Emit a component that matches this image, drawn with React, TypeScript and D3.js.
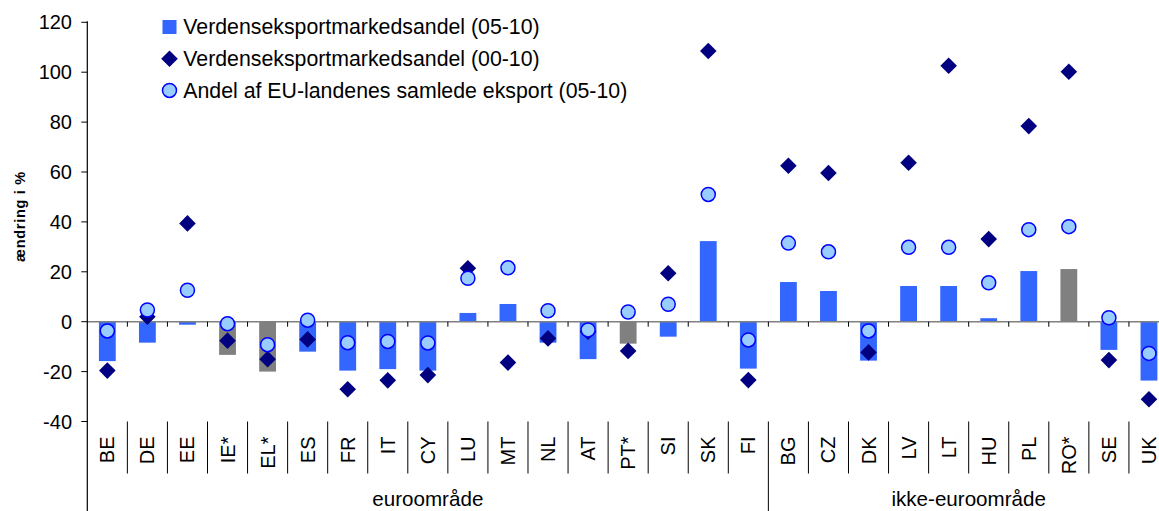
import * as d3 from "d3";

// Data
const countries = [
  "BE", "DE", "EE", "IE*", "EL*", "ES", "FR", "IT", "CY", "LU", "MT", "NL", "AT", "PT*", "SI", "SK", "FI",
  "BG", "CZ", "DK", "LV", "LT", "HU", "PL", "RO*", "SE", "UK",
];
const greyCountries = ["IE*", "EL*", "PT*", "RO*"];

// Verdenseksportmarkedsandel (05-10) - bars
const share0510 = [
  -15.8, -8.4, -1.2, -13.3, -20, -12, -19.6, -19, -19.6, 3.5, 7.1, -8.4, -15, -8.8, -6, 32.3, -18.8,
  15.9, 12.3, -15.6, 14.3, 14.3, 1.4, 20.3, 21.1, -11.3, -23.6,
];
// Verdenseksportmarkedsandel (00-10) - diamonds
const share0010 = [
  -19.6, 2, 39.4, -7.6, -15, -7.1, -27.1, -23.5, -21.4, 21.4, -16.4, -6.7, -4, -11.7, 19.4, 108.5, -23.4,
  62.5, 59.6, -12.3, 63.7, 102.6, 33.1, 78.4, 100.2, -15.4, -31.1,
];
// Andel af EU-landenes samlede eksport (05-10) - circles
const euShare0510 = [
  -3.7, 4.7, 12.6, -0.8, -9.2, 0.6, -8.4, -7.9, -8.5, 17.4, 21.6, 4.4, -3.3, 3.9, 7, 51, -7.3,
  31.5, 28, -3.7, 29.8, 29.8, 15.6, 36.9, 38.1, 1.6, -12.7,
];

const groups = [
  { label: "euroområde", from: "BE", to: "FI" },
  { label: "ikke-euroområde", from: "BG", to: "UK" },
];

const yTicks = [-40, -20, 0, 20, 40, 60, 80, 100, 120];

const legendItems = [
  "Verdenseksportmarkedsandel (05-10)",
  "Verdenseksportmarkedsandel (00-10)",
  "Andel af EU-landenes samlede eksport (05-10)",
];

const W = 1159;
const H = 511;
const FONT = "'Liberation Sans', Arial, sans-serif";
const BAR = "#3366ff";
const GREY = "#808080";
const NAVY = "#000080";
const CIRCLE_FILL = "#99ccff";
const CIRCLE_STROKE = "#0000ff";

// diamond marker, half diagonal r
const diamondPath = (r: number) => `M0,${-r}L${r},0L0,${r}L${-r},0Z`;

export default function App() {
  const x = d3.scaleBand<string>().domain(countries).range([87.3, 1169]);
  const y = d3.scaleLinear().domain([-40, 120]).range([421.5, 22.3]);
  const bw = x.bandwidth();
  const barW = bw * 0.42;
  const cx = (c: string) => (x(c) as number) + bw / 2;
  const y0 = y(0);
  const left = x.range()[0];
  const labelTop = y(-40);
  const diamond = diamondPath(8.3);

  return (
    <svg
      width={W}
      height={H}
      style={{ position: "absolute", left: 0, top: 0, background: "#fff" }}
      fontFamily={FONT}
    >
      {/* bars */}
      {countries.map((c, i) => {
        const v = share0510[i];
        return (
          <rect
            key={"b" + c}
            x={cx(c) - barW / 2}
            y={Math.min(y(v), y0)}
            width={barW}
            height={Math.abs(y(v) - y0)}
            fill={greyCountries.includes(c) ? GREY : BAR}
          />
        );
      })}

      {/* zero line + category ticks */}
      <line x1={left} x2={W} y1={y0} y2={y0} stroke={GREY} strokeWidth={1.5} />
      {countries.map((c) => (
        <line
          key={"t" + c}
          x1={(x(c) as number) + bw}
          x2={(x(c) as number) + bw}
          y1={y0}
          y2={y0 + 5}
          stroke="#000"
          strokeWidth={1}
        />
      ))}

      {/* y axis */}
      <line x1={left} x2={left} y1={y(120) - 1} y2={H} stroke="#000" strokeWidth={1.2} />
      {yTicks.map((t) => (
        <g key={"y" + t}>
          <line x1={left - 6} x2={left} y1={y(t)} y2={y(t)} stroke="#000" />
          <text x={72} y={y(t)} dy="0.35em" textAnchor="end" fontSize={20} fill="#000">
            {t}
          </text>
        </g>
      ))}
      <text
        transform={`translate(20,${y(40) - 5}) rotate(-90)`}
        textAnchor="middle"
        dy="0.35em"
        fontSize={14.5}
        fontWeight="bold"
        textLength={90}
        fill="#000"
      >
        ændring i %
      </text>

      {/* diamonds */}
      {countries.map((c, i) => (
        <path
          key={"d" + c}
          d={diamond}
          transform={`translate(${cx(c)},${y(share0010[i])})`}
          fill={NAVY}
        />
      ))}

      {/* circles */}
      {countries.map((c, i) => (
        <circle
          key={"c" + c}
          cx={cx(c)}
          cy={y(euShare0510[i])}
          r={7}
          fill={CIRCLE_FILL}
          stroke={CIRCLE_STROKE}
          strokeWidth={1.5}
        />
      ))}

      {/* category labels area */}
      {countries.map((c, i) => {
        const xr = (x(c) as number) + bw;
        const isGroupEnd = groups.some((g) => g.to === c);
        return (
          <g key={"l" + c}>
            <text
              transform={`translate(${cx(c)},${labelTop + 15}) rotate(-90)`}
              textAnchor="end"
              dy="0.35em"
              fontSize={20}
              fill="#000"
            >
              {c}
            </text>
            {i < countries.length - 1 && (
              <line
                x1={xr}
                x2={xr}
                y1={labelTop}
                y2={isGroupEnd ? H : labelTop + 52}
                stroke="#000"
                strokeWidth={1}
              />
            )}
          </g>
        );
      })}
      {groups.map((g) => {
        const a = x(g.from) as number;
        const b = (x(g.to) as number) + bw;
        return (
          <text key={g.label} x={(a + b) / 2} y={506} textAnchor="middle" fontSize={20.6} fill="#000">
            {g.label}
          </text>
        );
      })}

      {/* legend */}
      {legendItems.map((label, i) => {
        const my = 27 + i * 31.7;
        const mx = 169.5;
        return (
          <g key={label}>
            {i === 0 && <rect x={mx - 7} y={my - 7} width={14} height={14} fill={BAR} />}
            {i === 1 && <path d={diamond} transform={`translate(${mx},${my})`} fill={NAVY} />}
            {i === 2 && (
              <circle cx={mx} cy={my} r={7} fill={CIRCLE_FILL} stroke={CIRCLE_STROKE} strokeWidth={1.5} />
            )}
            <text x={183.3} y={my + 7.3} fontSize={21.3} fill="#000">
              {label}
            </text>
          </g>
        );
      })}
    </svg>
  );
}
